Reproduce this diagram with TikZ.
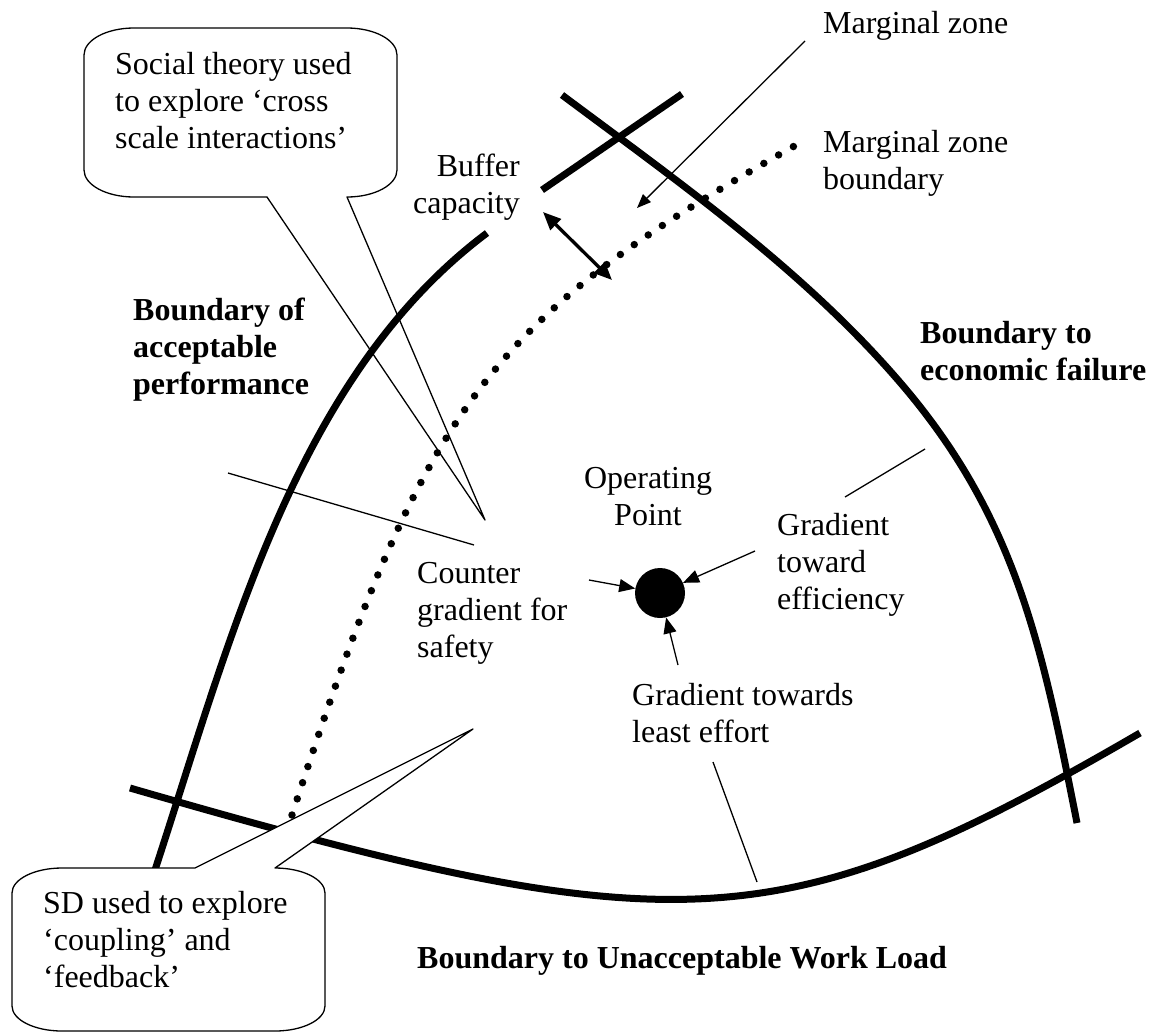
\documentclass[tikz,border=0pt]{standalone}
\usepackage{fontspec}
\setmainfont{Liberation Serif}
\usetikzlibrary{arrows.meta}
% stacked lines of text, baseline on the first line
\newcommand\txtblock[2][l]{\begin{tabular}[t]{@{}#1@{}}#2\end{tabular}}
\begin{document}
\begin{tikzpicture}[x=1pt,y=-1pt,
  boundary/.style={line width=7pt},
  thinline/.style={line width=1.3pt},
  pointer/.style={thinline,-{Triangle[length=16pt,width=13pt]}},
  dotline/.style={line width=7.5pt,line cap=round,dash pattern=on 0pt off 17pt},
  callout/.style={thinline,fill=white,line join=round},
  lbl/.style={inner sep=0pt,font=\fontsize{32}{37}\selectfont},
  blbl/.style={inner sep=0pt,font=\fontsize{32}{37}\selectfont\bfseries},
]
\useasboundingbox (0,0) rectangle (1161,1034);

% named end points of the free connectors
\coordinate (tipTop) at (485,520);
\coordinate (tipBot) at (473,729);
\coordinate (mzA) at (805,41);
\coordinate (mzB) at (637,208);
\coordinate (bufA) at (543,212);
\coordinate (bufB) at (612,280);
\coordinate (cgsA) at (228,473);
\coordinate (cgsB) at (474,545);
\coordinate (effA) at (925,449);
\coordinate (effB) at (845,497);
\coordinate (leA) at (713,762);
\coordinate (leB) at (757,882);
\coordinate (inL) at (589,580);
\coordinate (inR) at (755,551);
\coordinate (inB) at (678,665);

% upper speech bubble
\draw[thinline,line join=round] (267,197) -- (134,197)
  arc[start angle=90,end angle=180,x radius=50,y radius=27] -- (84,55)
  arc[start angle=180,end angle=270,x radius=50,y radius=27] -- (347,28)
  arc[start angle=270,end angle=360,x radius=50,y radius=27] -- (397,170)
  arc[start angle=0,end angle=90,x radius=50,y radius=27] -- (tipTop) -- cycle;

% boundaries
\draw[boundary] (145,900) .. controls (225,663) and (287,383) .. (487,233);
\draw[boundary] (542,190) -- (682,94);
\draw[boundary] (562,95) .. controls (680,183) and (802,269) .. (898,380)
  .. controls (1016,516) and (1042,646) .. (1077,823);
\draw[boundary] (130,788) .. controls (679,947) and (780,942) .. (1140,733);
\draw[dotline] (292,815) .. controls (427,399) and (488,318) .. (805,140);

% operating point and gradients
\node[circle,fill=black,minimum size=50pt,inner sep=0pt] (op) at (660,593) {};
\draw[pointer] (inL) -- (op);
\draw[pointer] (inR) -- (op);
\draw[pointer] (inB) -- (op);

% leader lines
\draw[thinline] (cgsA) -- (cgsB);
\draw[thinline] (effA) -- (effB);
\draw[thinline] (leA) -- (leB);
\draw[thinline,-{Triangle[length=14pt,width=11pt]}] (mzA) -- (mzB);
\draw[line width=3.3pt,{Triangle[length=18pt,width=15pt]}-{Triangle[length=18pt,width=15pt]}] (bufA) -- (bufB);

% lower speech bubble
\filldraw[callout] (195,868) -- (62,868)
  arc[start angle=270,end angle=180,x radius=50,y radius=25] -- (12,1006)
  arc[start angle=180,end angle=90,x radius=50,y radius=25] -- (275,1031)
  arc[start angle=90,end angle=0,x radius=50,y radius=25] -- (325,893)
  arc[start angle=360,end angle=270,x radius=50,y radius=25] -- (tipBot) -- cycle;

% texts
\node[lbl,anchor=base west] (social) at (115,74) {\txtblock{Social theory used\\to explore ‘cross\\scale interactions’}};
\node[lbl,anchor=base west] (mz) at (823,33) {Marginal zone};
\node[lbl,anchor=base west] (mzb) at (823,152) {\txtblock{Marginal zone\\boundary}};
\node[lbl,anchor=base east] (buffer) at (520,176) {\txtblock[r]{Buffer\\capacity}};
\node[blbl,anchor=base west] (bap) at (133,320) {\txtblock{Boundary of\\acceptable\\performance}};
\node[blbl,anchor=base west] (bef) at (920,343) {\txtblock{Boundary to\\economic failure}};
\node[lbl,anchor=base] (optext) at (648,488) {\txtblock[c]{Operating\\Point}};
\node[lbl,anchor=base west] (cgs) at (417,583) {\txtblock{Counter\\gradient for\\safety}};
\node[lbl,anchor=base west] (gte) at (777,535) {\txtblock{Gradient\\toward\\efficiency}};
\node[lbl,anchor=base west] (gtle) at (632,705) {\txtblock{Gradient towards\\least effort}};
\node[blbl,anchor=base west] (buwl) at (417,968) {Boundary to Unacceptable Work Load};
\node[lbl,anchor=base west] (sdtext) at (43,913) {\txtblock{SD used to explore\\‘coupling’ and\\‘feedback’}};
\end{tikzpicture}
\end{document}
